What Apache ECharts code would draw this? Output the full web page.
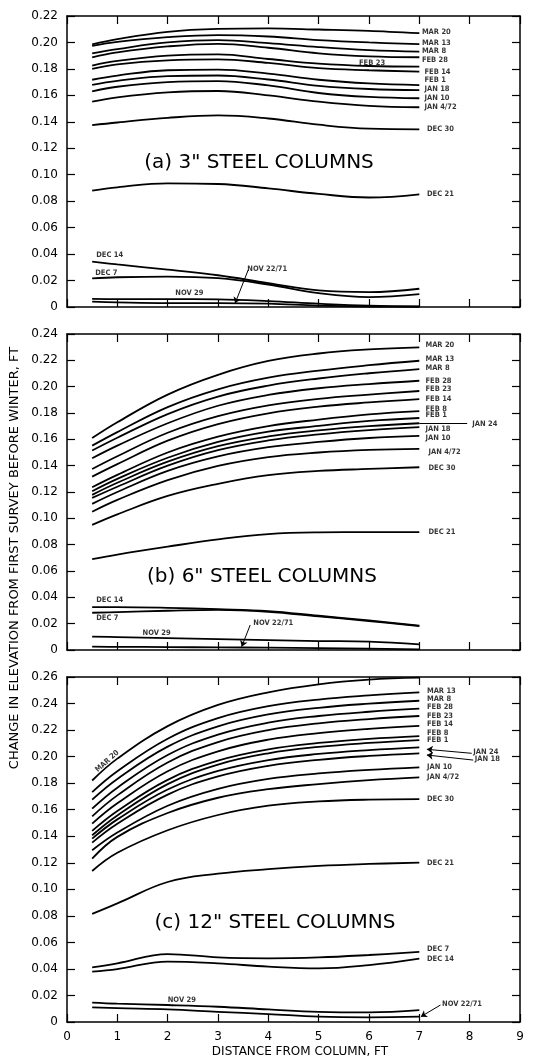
<!DOCTYPE html>
<html><head><meta charset="utf-8">
<script src="https://cdn.jsdelivr.net/npm/echarts@6/dist/echarts.min.js"></script>
<style>html,body{margin:0;padding:0;background:#fff}#c{width:546px;height:1059px}</style>
</head><body><div id="c"></div>
<script>
// ---- data ----
const distances = [0.5, 1, 2, 3, 4, 5, 6, 7];
const xTickLabels = ['0','1','2','3','4','5','6','7','8','9'];

const namesA = ['MAR 20','MAR 13','MAR 8','FEB 28','FEB 23','FEB 14','FEB 1','JAN 18','JAN 10','JAN 4/72','DEC 30','DEC 21','DEC 14','DEC 7','NOV 29','NOV 22/71'];
const a_mar20 = [0.1985, 0.2025, 0.2080, 0.2102, 0.2106, 0.2098, 0.2088, 0.2070];
const a_mar13 = [0.1975, 0.2005, 0.2040, 0.2056, 0.2045, 0.2018, 0.2000, 0.1988];
const a_mar8  = [0.1918, 0.1950, 0.2000, 0.2018, 0.1995, 0.1965, 0.1942, 0.1930];
const a_feb28 = [0.1888, 0.1925, 0.1970, 0.1990, 0.1960, 0.1918, 0.1895, 0.1888];
const a_feb23 = [0.1825, 0.1860, 0.1900, 0.1910, 0.1875, 0.1840, 0.1822, 0.1817];
const a_feb14 = [0.1800, 0.1835, 0.1865, 0.1872, 0.1845, 0.1806, 0.1790, 0.1780];
const a_feb1  = [0.1718, 0.1750, 0.1790, 0.1795, 0.1765, 0.1718, 0.1690, 0.1678];
const a_jan18 = [0.1680, 0.1710, 0.1745, 0.1750, 0.1720, 0.1672, 0.1648, 0.1640];
const a_jan10 = [0.1630, 0.1665, 0.1700, 0.1708, 0.1675, 0.1618, 0.1588, 0.1578];
const a_jan4  = [0.1552, 0.1585, 0.1622, 0.1633, 0.1600, 0.1552, 0.1520, 0.1510];
const a_dec30 = [0.1375, 0.1395, 0.1430, 0.1448, 0.1425, 0.1378, 0.1348, 0.1343];
const a_dec21 = [0.0879, 0.0905, 0.0935, 0.0930, 0.0897, 0.0855, 0.0828, 0.0852];
const a_dec14 = [0.0343, 0.0322, 0.0282, 0.0240, 0.0180, 0.0125, 0.0112, 0.0138];
const a_dec7  = [0.0217, 0.0225, 0.0230, 0.0218, 0.0170, 0.0105, 0.0075, 0.0098];
const a_nov29 = [0.0062, 0.0060, 0.0060, 0.0058, 0.0045, 0.0025, 0.0010, 0.0005];
const a_nov22 = [0.0040, 0.0035, 0.0030, 0.0030, 0.0025, 0.0010, 0.0003, 0.0002];

const namesB = ['MAR 20','MAR 13','MAR 8','FEB 28','FEB 23','FEB 14','FEB 8','FEB 1','JAN 24','JAN 18','JAN 10','JAN 4/72','DEC 30','DEC 21','DEC 14','DEC 7','NOV 29','NOV 22/71'];
const b_mar20 = [0.1610, 0.1730, 0.1940, 0.2090, 0.2195, 0.2252, 0.2283, 0.2299];
const b_mar13 = [0.1552, 0.1655, 0.1845, 0.1980, 0.2068, 0.2122, 0.2163, 0.2197];
const b_mar8  = [0.1515, 0.1612, 0.1792, 0.1925, 0.2008, 0.2062, 0.2102, 0.2134];
const b_feb28 = [0.1456, 0.1552, 0.1722, 0.1855, 0.1937, 0.1988, 0.2020, 0.2045];
const b_feb23 = [0.1375, 0.1472, 0.1650, 0.1776, 0.1858, 0.1908, 0.1940, 0.1967];
const b_feb14 = [0.1317, 0.1412, 0.1590, 0.1716, 0.1798, 0.1848, 0.1880, 0.1905];
const b_feb8  = [0.1236, 0.1330, 0.1500, 0.1620, 0.1700, 0.1750, 0.1790, 0.1815];
const b_feb1  = [0.1206, 0.1300, 0.1460, 0.1580, 0.1658, 0.1702, 0.1740, 0.1762];
const b_jan24 = [0.1178, 0.1270, 0.1430, 0.1548, 0.1622, 0.1668, 0.1700, 0.1722];
const b_jan18 = [0.1155, 0.1240, 0.1400, 0.1518, 0.1592, 0.1638, 0.1670, 0.1692];
const b_jan10 = [0.1110, 0.1200, 0.1360, 0.1470, 0.1540, 0.1580, 0.1610, 0.1626];
const b_jan4  = [0.1050, 0.1140, 0.1290, 0.1398, 0.1465, 0.1500, 0.1520, 0.1528];
const b_dec30 = [0.0950, 0.1030, 0.1170, 0.1262, 0.1328, 0.1360, 0.1375, 0.1388];
const b_dec21 = [0.0690, 0.0725, 0.0785, 0.0840, 0.0880, 0.0893, 0.0895, 0.0895];
const b_dec14 = [0.0325, 0.0325, 0.0320, 0.0310, 0.0295, 0.0260, 0.0225, 0.0185];
const b_dec7  = [0.0283, 0.0288, 0.0298, 0.0305, 0.0290, 0.0255, 0.0220, 0.0182];
const b_nov29 = [0.0101, 0.0098, 0.0090, 0.0082, 0.0075, 0.0068, 0.0063, 0.0043];
const b_nov22 = [0.0025, 0.0024, 0.0022, 0.0020, 0.0018, 0.0015, 0.0010, 0.0005];

const namesC = ['MAR 20','MAR 13','MAR 8','FEB 28','FEB 23','FEB 14','FEB 8','FEB 1','JAN 24','JAN 18','JAN 10','JAN 4/72','DEC 30','DEC 21','DEC 7','DEC 14','NOV 29','NOV 22/71'];
const c_mar20 = [0.1820, 0.1985, 0.2230, 0.2390, 0.2485, 0.2545, 0.2580, 0.2595];
const c_mar13 = [0.1733, 0.1890, 0.2135, 0.2290, 0.2380, 0.2430, 0.2461, 0.2484];
const c_mar8  = [0.1676, 0.1832, 0.2075, 0.2228, 0.2318, 0.2368, 0.2399, 0.2421];
const c_feb28 = [0.1608, 0.1766, 0.2012, 0.2166, 0.2256, 0.2306, 0.2338, 0.2361];
const c_feb23 = [0.1550, 0.1708, 0.1956, 0.2110, 0.2200, 0.2251, 0.2283, 0.2306];
const c_feb14 = [0.1495, 0.1648, 0.1890, 0.2040, 0.2128, 0.2177, 0.2209, 0.2231];
const c_feb8  = [0.1440, 0.1590, 0.1825, 0.1970, 0.2055, 0.2103, 0.2134, 0.2155];
const c_feb1  = [0.1407, 0.1557, 0.1793, 0.1940, 0.2025, 0.2073, 0.2103, 0.2125];
const c_jan24 = [0.1382, 0.1527, 0.1752, 0.1892, 0.1974, 0.2020, 0.2049, 0.2070];
const c_jan18 = [0.1352, 0.1494, 0.1714, 0.1851, 0.1931, 0.1976, 0.2005, 0.2025];
const c_jan10 = [0.1294, 0.1428, 0.1630, 0.1757, 0.1832, 0.1873, 0.1900, 0.1919];
const c_jan4  = [0.1231, 0.1395, 0.1575, 0.1690, 0.1755, 0.1793, 0.1823, 0.1844];
const c_dec30 = [0.1138, 0.1275, 0.1445, 0.1560, 0.1630, 0.1662, 0.1676, 0.1680];
const c_dec21 = [0.0815, 0.0894, 0.1055, 0.1118, 0.1152, 0.1176, 0.1191, 0.1201];
const c_dec7  = [0.0412, 0.0442, 0.0512, 0.0487, 0.0480, 0.0487, 0.0505, 0.0528];
const c_dec14 = [0.0379, 0.0399, 0.0455, 0.0442, 0.0417, 0.0404, 0.0429, 0.0478];
const c_nov29 = [0.0146, 0.0138, 0.0128, 0.0115, 0.0095, 0.0077, 0.0073, 0.0090];
const c_nov22 = [0.0110, 0.0104, 0.0095, 0.0077, 0.0060, 0.0040, 0.0035, 0.0040];

// ---- annotations (label anchors in data units) ----
const labelsA = [[7.05,0.2077,'MAR 20'],[7.05,0.1993,'MAR 13'],[7.05,0.1933,'MAR 8'],[7.05,0.1870,'FEB 28'],[5.8,0.1848,'FEB 23'],[7.1,0.1780,'FEB 14'],[7.1,0.1716,'FEB 1'],[7.1,0.1645,'JAN 18'],[7.1,0.1577,'JAN 10'],[7.1,0.1509,'JAN 4/72'],[7.15,0.1343,'DEC 30'],[7.15,0.0852,'DEC 21'],[0.58,0.0393,'DEC 14'],[0.56,0.0255,'DEC 7'],[3.58,0.0285,'NOV 22/71'],[2.15,0.0103,'NOV 29']];
const labelsB = [[7.12,0.2317,'MAR 20'],[7.12,0.2210,'MAR 13'],[7.12,0.2140,'MAR 8'],[7.12,0.2045,'FEB 28'],[7.12,0.1980,'FEB 23'],[7.12,0.1904,'FEB 14'],[7.12,0.1830,'FEB 8'],[7.12,0.1783,'FEB 1'],[8.05,0.1714,'JAN 24'],[7.12,0.1676,'JAN 18'],[7.12,0.1608,'JAN 10'],[7.18,0.1506,'JAN 4/72'],[7.18,0.1385,'DEC 30'],[7.18,0.0899,'DEC 21'],[0.58,0.0380,'DEC 14'],[0.58,0.0241,'DEC 7'],[1.5,0.0127,'NOV 29'],[3.7,0.0203,'NOV 22/71']];
const labelsC = [[7.15,0.2497,'MAR 13'],[7.15,0.2434,'MAR 8'],[7.15,0.2371,'FEB 28'],[7.15,0.2308,'FEB 23'],[7.15,0.2246,'FEB 14'],[7.15,0.2180,'FEB 8'],[7.15,0.2125,'FEB 1'],[8.07,0.2037,'JAN 24'],[8.1,0.1980,'JAN 18'],[7.15,0.1919,'JAN 10'],[7.15,0.1844,'JAN 4/72'],[7.15,0.1678,'DEC 30'],[7.15,0.1200,'DEC 21'],[7.15,0.0548,'DEC 7'],[7.15,0.0472,'DEC 14'],[2.0,0.0166,'NOV 29'],[7.45,0.0136,'NOV 22/71']];
const rotatedLabelC = [0.8, 0.1965, 'MAR 20'];
const arrowsA = [[[3.6,0.028],[3.34,0.0028]]];
const arrowsB = [[[3.64,0.019],[3.47,0.0025]]];
const leadersB = [[[7.0,0.1722],[7.95,0.1722]]];
const arrowsC = [[[7.42,0.0128],[7.03,0.004]],[[8.04,0.2025],[7.15,0.2055]],[[8.07,0.1974],[7.15,0.2012]]];

const panelTitles = ['(a) 3" STEEL COLUMNS','(b) 6" STEEL COLUMNS','(c) 12" STEEL COLUMNS'];
const yMax = [0.22, 0.24, 0.26];

// ---- build ----
const panels = [
  {names: namesA, vals: [a_mar20,a_mar13,a_mar8,a_feb28,a_feb23,a_feb14,a_feb1,a_jan18,a_jan10,a_jan4,a_dec30,a_dec21,a_dec14,a_dec7,a_nov29,a_nov22], labels: labelsA, arrows: arrowsA, leaders: []},
  {names: namesB, vals: [b_mar20,b_mar13,b_mar8,b_feb28,b_feb23,b_feb14,b_feb8,b_feb1,b_jan24,b_jan18,b_jan10,b_jan4,b_dec30,b_dec21,b_dec14,b_dec7,b_nov29,b_nov22], labels: labelsB, arrows: arrowsB, leaders: leadersB},
  {names: namesC, vals: [c_mar20,c_mar13,c_mar8,c_feb28,c_feb23,c_feb14,c_feb8,c_feb1,c_jan24,c_jan18,c_jan10,c_jan4,c_dec30,c_dec21,c_dec7,c_dec14,c_nov29,c_nov22], labels: labelsC, arrows: arrowsC, leaders: []}
];
const layout = [{top:16,height:291},{top:334,height:316},{top:677,height:345}];
const FONT = 'DejaVu Sans';
const LBLFONT = "'DejaVu Sans Condensed', 'DejaVu Sans'";

const grids = [], xAxes = [], yAxes = [], series = [];
const axisLine = {show:true, onZero:false, lineStyle:{color:'#000', width:1.5}};
const tick = {show:true, inside:true, length:8, lineStyle:{color:'#000', width:1.2}};

panels.forEach((p, i) => {
  grids.push({left:67, right:26, top:layout[i].top, height:layout[i].height});
  xAxes.push({type:'value', gridIndex:i, min:0, max:9, interval:1, position:'bottom',
    axisLine, axisTick:tick, splitLine:{show:false},
    axisLabel:{show:i===2, margin:9, color:'#000', fontFamily:FONT, fontSize:12,
      formatter: v => xTickLabels[Math.round(v)]}});
  xAxes.push({type:'value', gridIndex:i, min:0, max:9, interval:1, position:'top',
    axisLine, axisTick:tick, splitLine:{show:false}, axisLabel:{show:false}});
  yAxes.push({type:'value', gridIndex:i, min:0, max:yMax[i], interval:0.02, position:'left',
    axisLine, axisTick:tick, splitLine:{show:false},
    axisLabel:{margin:9, color:'#000', fontFamily:FONT, fontSize:12,
      formatter: v => (Math.abs(v) < 1e-9 ? '0' : v.toFixed(2))}});
  yAxes.push({type:'value', gridIndex:i, min:0, max:yMax[i], interval:0.02, position:'right',
    axisLine, axisTick:tick, splitLine:{show:false}, axisLabel:{show:false}});

  p.names.forEach((nm, k) => {
    series.push({type:'line', name:nm, xAxisIndex:2*i, yAxisIndex:2*i,
      data: distances.map((d, j) => [d, p.vals[k][j]]),
      smooth:0.4, symbol:'none', silent:true,
      lineStyle:{color:'#000', width:1.8}});
  });

  const lblData = p.labels.map(l => ({value:[l[0], l[1]], name:l[2]}));
  if (i === 2) {
    lblData.push({value:[rotatedLabelC[0], rotatedLabelC[1]], name:rotatedLabelC[2],
      label:{position:'inside', rotate:42, align:'center'}});
  }
  series.push({type:'scatter', xAxisIndex:2*i, yAxisIndex:2*i, symbolSize:0.1, silent:true,
    itemStyle:{color:'rgba(0,0,0,0)'},
    data: lblData,
    label:{show:true, position:'right', distance:0, formatter: q => q.name,
      color:'#000', fontFamily:LBLFONT, fontWeight:'bold', fontSize:7.5}});

  series.push({type:'lines', coordinateSystem:'cartesian2d', xAxisIndex:2*i, yAxisIndex:2*i, silent:true,
    symbol:['none','arrow'], symbolSize:6,
    lineStyle:{color:'#000', width:1, opacity:1},
    data: p.arrows.map(a => ({coords:a}))});
  if (p.leaders.length) {
    series.push({type:'lines', coordinateSystem:'cartesian2d', xAxisIndex:2*i, yAxisIndex:2*i, silent:true,
      symbol:['none','none'],
      lineStyle:{color:'#000', width:1, opacity:1},
      data: p.leaders.map(a => ({coords:a}))});
  }
});

const titlePos = [[259,163],[262,577],[275,923]];
const graphic = panelTitles.map((t, i) => ({type:'text', x:titlePos[i][0], y:titlePos[i][1], silent:true,
  style:{text:t, fill:'#000', font:'20px ' + FONT, textAlign:'center', textVerticalAlign:'middle'}}));
graphic.push({type:'text', x:15, y:558, rotation:Math.PI/2, silent:true,
  style:{text:'CHANGE IN ELEVATION FROM FIRST SURVEY BEFORE WINTER, FT', fill:'#000', font:'13px ' + FONT, textAlign:'center', textVerticalAlign:'middle'}});
graphic.push({type:'text', x:300, y:1052, silent:true,
  style:{text:'DISTANCE FROM COLUMN, FT', fill:'#000', font:'12px ' + FONT, textAlign:'center', textVerticalAlign:'middle'}});

const chart = echarts.init(document.getElementById('c'), null, {renderer:'canvas'});
chart.setOption({
  backgroundColor:'#fff', animation:false,
  grid:grids, xAxis:xAxes, yAxis:yAxes, series, graphic
});
</script></body></html>
